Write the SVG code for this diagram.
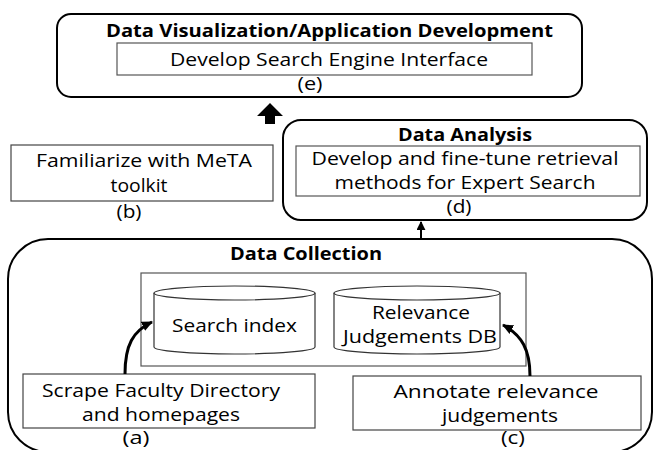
<svg xmlns="http://www.w3.org/2000/svg" width="655" height="450" viewBox="0 0 655 450">
<style>
  .outer{fill:#fff;stroke:#000;stroke-width:2}
  .inner{fill:#fff;stroke:#555;stroke-width:1.2}
  .box{fill:#fff;stroke:#444;stroke-width:1.2}
  .cyl{fill:#fff;stroke:#333;stroke-width:1.2}
  text{font-family:"Open Sans","Liberation Sans",sans-serif;font-size:17.5px;fill:#000;text-anchor:middle}
  .b{font-weight:bold;font-size:17.5px}
  .conn{fill:none;stroke:#000;stroke-width:3}
  .thin{fill:none;stroke:#000;stroke-width:2}
</style>
<defs>
  <marker id="ah" markerUnits="userSpaceOnUse" markerWidth="12" markerHeight="12" viewBox="0 0 12 12" refX="10" refY="6" orient="auto">
    <path d="M0,1 L11,6 L0,11 Z" fill="#000"/>
  </marker>
  <marker id="ah2" markerUnits="userSpaceOnUse" markerWidth="9" markerHeight="9" viewBox="0 0 10 10" refX="9" refY="5" orient="auto">
    <path d="M0,0 L10,5 L0,10 Z" fill="#000"/>
  </marker>
</defs>

<g id="node-e">
  <rect class="outer" x="57" y="14" width="525" height="83" rx="14"/>
  <text class="b" x="329.5" y="37" textLength="447" lengthAdjust="spacingAndGlyphs">Data Visualization/Application Development</text>
  <rect class="inner" x="117" y="43" width="415" height="32"/>
  <text x="329" y="66" textLength="318" lengthAdjust="spacingAndGlyphs">Develop Search Engine Interface</text>
  <text x="310" y="90" textLength="25" lengthAdjust="spacingAndGlyphs">(e)</text>
</g>

<g id="node-b">
  <rect class="box" x="11" y="145" width="262" height="56"/>
  <text x="144" y="167" textLength="216" lengthAdjust="spacingAndGlyphs">Familiarize with MeTA</text>
  <text x="139" y="192" textLength="57" lengthAdjust="spacingAndGlyphs">toolkit</text>
  <text x="129" y="218" textLength="25" lengthAdjust="spacingAndGlyphs">(b)</text>
</g>

<g id="node-d">
  <rect class="outer" x="283" y="120" width="364" height="100" rx="18"/>
  <text class="b" x="465" y="141" textLength="134" lengthAdjust="spacingAndGlyphs">Data Analysis</text>
  <rect class="inner" x="296" y="146" width="344" height="50"/>
  <text x="465" y="165" textLength="307" lengthAdjust="spacingAndGlyphs">Develop and fine-tune retrieval</text>
  <text x="465" y="189" textLength="261" lengthAdjust="spacingAndGlyphs">methods for Expert Search</text>
  <text x="459" y="213" textLength="25" lengthAdjust="spacingAndGlyphs">(d)</text>
</g>

<g id="node-collection">
  <rect class="outer" x="8" y="239" width="644" height="213" rx="40"/>
  <text class="b" x="306" y="260" textLength="152" lengthAdjust="spacingAndGlyphs">Data Collection</text>
  <rect class="inner" x="141" y="273" width="385" height="93"/>
</g>

<g id="node-search-index">
  <path class="cyl" d="M154,293 L154,347 A80.5,7 0 0 0 315,347 L315,293"/>
  <ellipse class="cyl" cx="234.5" cy="293" rx="80.5" ry="7"/>
  <text x="234.5" y="332" textLength="125" lengthAdjust="spacingAndGlyphs">Search index</text>
</g>

<g id="node-relevance-db">
  <path class="cyl" d="M334,293 L334,347 A83,7 0 0 0 500,347 L500,293"/>
  <ellipse class="cyl" cx="417" cy="293" rx="83" ry="7"/>
  <text x="421" y="319" textLength="98" lengthAdjust="spacingAndGlyphs">Relevance</text>
  <text x="420" y="343" textLength="154" lengthAdjust="spacingAndGlyphs">Judgements DB</text>
</g>

<g id="node-a">
  <rect class="box" x="23" y="374" width="292" height="54"/>
  <text x="161" y="397" textLength="238" lengthAdjust="spacingAndGlyphs">Scrape Faculty Directory</text>
  <text x="161" y="421" textLength="158" lengthAdjust="spacingAndGlyphs">and homepages</text>
  <text x="136" y="444" textLength="27" lengthAdjust="spacingAndGlyphs">(a)</text>
</g>

<g id="node-c">
  <rect class="box" x="353" y="376" width="288" height="54"/>
  <text x="496" y="398" textLength="205" lengthAdjust="spacingAndGlyphs">Annotate relevance</text>
  <text x="500" y="422" textLength="116" lengthAdjust="spacingAndGlyphs">judgements</text>
  <text x="513" y="444" textLength="24" lengthAdjust="spacingAndGlyphs">(c)</text>
</g>

<g id="connectors">
  <polygon points="270,103 283,116 275,116 275,124 265,124 265,116 257,116" fill="#000"/>
  <line class="thin" x1="421" y1="239" x2="421" y2="222" marker-end="url(#ah2)"/>
  <path class="conn" d="M125,374 C125,345 133,331 152,322" marker-end="url(#ah)"/>
  <path class="conn" d="M530,376 C530,350 522,335 503,325" marker-end="url(#ah)"/>
</g>
</svg>
